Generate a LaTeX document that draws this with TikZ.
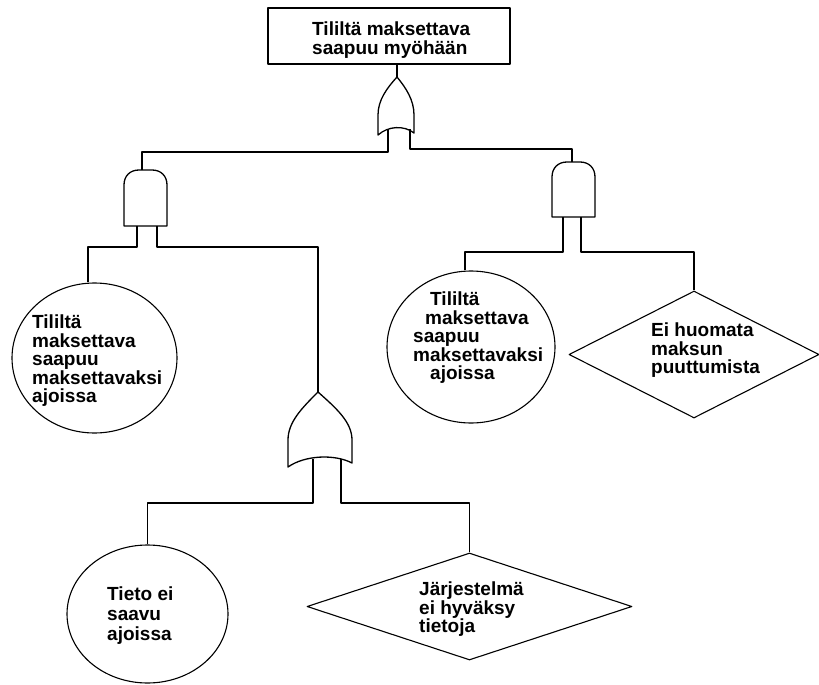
\documentclass[tikz,border=0pt]{standalone}
\usepackage{fontspec}
\setmainfont{Liberation Sans}
\usetikzlibrary{shapes.geometric}
\begin{document}
\begin{tikzpicture}[x=1pt,y=-1pt,
  line join=round,
  wire/.style={draw, line width=1.3pt},
  gatebody/.style={draw, line width=1.3pt, fill=white},
  topbox/.style={draw, rectangle, inner sep=0pt, line width=1.2pt},
  event/.style={draw, ellipse, inner sep=0pt, line width=1.1pt},
  undev/.style={draw, diamond, inner sep=0pt, line width=1.1pt},
  evtext/.style={anchor=north west, inner sep=0pt, align=left,
    font=\fontsize{19}{18.5}\selectfont\bfseries}]
\useasboundingbox (0,0) rectangle (819,685);

% top event
\node[topbox, minimum width=242pt, minimum height=56pt] (top) at (389,36) {};
\node[evtext] (toptext) at (312,22) {Tililtä maksettava\\saapuu myöhään};

% basic events (circles) and undeveloped events (diamonds)
\node[event, minimum width=165pt, minimum height=150pt] (c1) at (94.5,358) {};
\node[evtext] (c1text) at (32,315) {Tililtä\\maksettava\\saapuu\\maksettavaksi\\ajoissa};

\node[event, minimum width=168pt, minimum height=152pt] (c2) at (471,347) {};
\node[evtext] (c2text) at (413,292) {\hspace*{17pt}Tililtä\\\hspace*{12pt}maksettava\\saapuu\\maksettavaksi\\\hspace*{17pt}ajoissa};

\node[undev, minimum width=250pt, minimum height=127pt, aspect=1.97] (d1) at (694,354.5) {};
\node[evtext] (d1text) at (651,323) {Ei huomata\\maksun\\puuttumista};

\node[event, minimum width=161pt, minimum height=138pt] (c3) at (147.5,614) {};
\node[evtext, font=\fontsize{19}{20}\selectfont\bfseries] (c3text) at (107,587) {Tieto ei\\saavu\\ajoissa};

\node[undev, minimum width=325pt, minimum height=107pt, aspect=3.04] (d2) at (469.5,606.5) {};
\node[evtext] (d2text) at (419,582) {Järjestelmä\\ei hyväksy\\tietoja};

% OR gate under the top event
\coordinate (or1-out) at (397,77);
\coordinate (or1-l) at (388,129);
\coordinate (or1-r) at (410,129);
\draw[gatebody] (or1-out) .. controls (387,88) and (378,100) .. (378,115)
  -- (378,135) .. controls (388,126) and (404,125) .. (414,133)
  -- (414,115) .. controls (414,100) and (406,88) .. (or1-out);

% left AND gate
\coordinate (a1-out) at (142,170);
\coordinate (a1-l) at (137,226);
\coordinate (a1-r) at (157,226);
\draw[gatebody] (124,226) -- (124,185) .. controls (124,176) and (130,170) .. (139,170)
  -- (152,170) .. controls (161,170) and (167,176) .. (167,185) -- (167,226) -- cycle;

% right AND gate
\coordinate (a2-out) at (572,162);
\coordinate (a2-l) at (563,217);
\coordinate (a2-r) at (581,217);
\draw[gatebody] (552,217) -- (552,177) .. controls (552,168) and (558,162) .. (567,162)
  -- (580,162) .. controls (589,162) and (595,168) .. (595,177) -- (595,217) -- cycle;

% lower OR gate
\coordinate (or2-out) at (318,392);
\coordinate (or2-l) at (313,459);
\coordinate (or2-r) at (341,459);
\draw[gatebody] (or2-out) .. controls (302,408) and (288,422) .. (288,440)
  -- (288,467) .. controls (305,455) and (335,454) .. (352,463)
  -- (352,440) .. controls (352,422) and (336,408) .. (or2-out);

% connectors
\draw[wire] (or1-out) -- (or1-out |- top.south);
\draw[wire] (or1-l) -- ++(0,23) -| (a1-out);
\draw[wire] (or1-r) -- ++(0,20) -| (a2-out);

\draw[wire] (a1-l) -- ++(0,21) -| ([xshift=-6.5pt]c1.north);
\draw[wire] (a1-r) -- ++(0,21) -| (or2-out);

\draw[wire] (a2-l) -- ++(0,35) -| ([xshift=-6pt]c2.north);
\draw[wire] (a2-r) -- ++(0,35) -| (d1.north);

\draw[wire] (or2-l) -- ++(0,44) -| (c3.north);
\draw[wire] (or2-r) -- ++(0,44) -| (d2.north);
\end{tikzpicture}
\end{document}
